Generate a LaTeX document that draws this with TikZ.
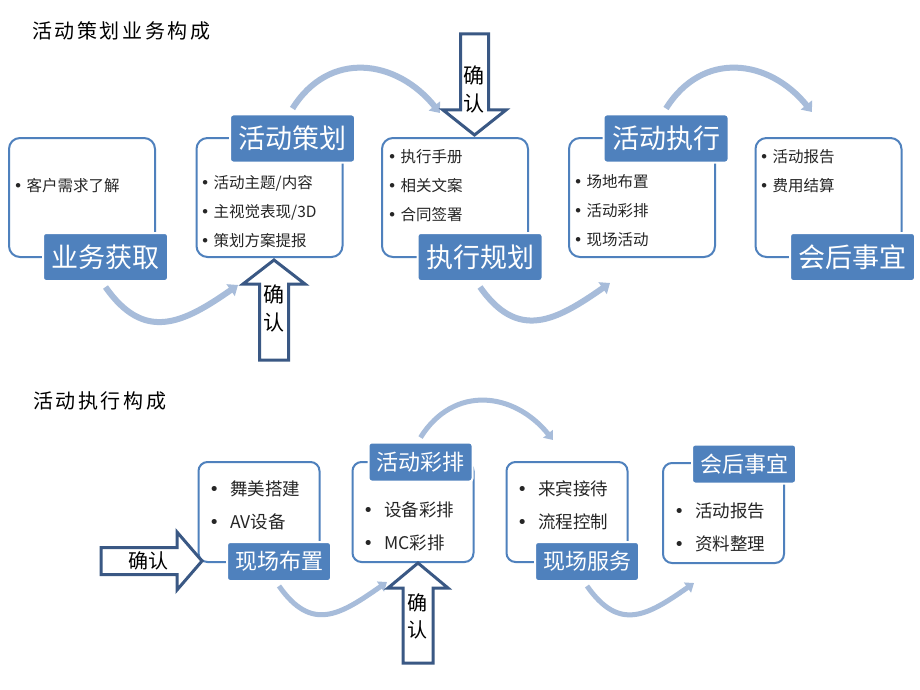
\documentclass[tikz,border=0pt]{standalone}
\usepackage{fontspec}
\setmainfont{Noto Sans CJK SC}
\newfontfamily\titlefont[LetterSpace=13]{Noto Sans CJK SC}
\newfontfamily\dotfont{DejaVu Sans}
\usetikzlibrary{arrows.meta}

\definecolor{accent}{RGB}{79,129,189}
\definecolor{flowline}{RGB}{167,188,218}
\definecolor{okline}{RGB}{58,88,132}
\definecolor{bodytext}{RGB}{38,38,38}

\newcommand{\dotitem}[1][13pt]{\makebox[#1][l]{\dotfont •}}

\begin{document}
\begin{tikzpicture}[x=1pt,y=1pt]
        \tikzstyle{panel} = [rectangle, rounded corners=11pt, draw=accent, line width=2pt, fill=white, minimum width=146pt, minimum height=119pt]
        \tikzstyle{spanel} = [panel, rounded corners=9pt, minimum width=121pt, minimum height=100pt]
        \tikzstyle{tag} = [rectangle, rounded corners=3pt, fill=accent, draw=white, line width=2pt, text=white, inner sep=0pt, minimum width=125pt, minimum height=48pt, font=\fontsize{27}{30}\selectfont]
        \tikzstyle{stag} = [tag, minimum width=104pt, minimum height=39pt, font=\fontsize{22}{25}\selectfont]
        \tikzstyle{items} = [align=left, anchor=west, inner sep=0pt, text=bodytext, font=\fontsize{15.5}{29}\selectfont]
        \tikzstyle{sitems} = [items, font=\fontsize{17.5}{33}\selectfont]
        \tikzstyle{flow} = [-{Triangle[length=9pt,width=14pt]}, draw=flowline, line width=6pt]
        \tikzstyle{sflow} = [-{Triangle[length=8pt,width=12pt]}, draw=flowline, line width=5pt]
        \tikzstyle{confirm} = [draw=okline, line width=3pt, fill=white]
        \tikzstyle{confirmtext} = [align=center, inner sep=0pt, font=\fontsize{21}{28}\selectfont]
        \tikzstyle{heading} = [anchor=west, inner sep=0pt, font=\titlefont\fontsize{20}{24}\selectfont]

        \fill[white] (0,0) rectangle (920,-690);
        \useasboundingbox (0,0) rectangle (920,-690);

        % top part
        \node[heading] (title1) at (32,-31) {活动策划业务构成};
        \node[panel] (box1) at (82,-197.5) {};
        \node[panel] (box2) at (269.5,-197.5) {};
        \node[panel] (box3) at (455,-197.5) {};
        \node[panel] (box4) at (642,-197.5) {};
        \node[panel] (box5) at (828.5,-197.5) {};
        \node[tag] (get) at (105.5,-257) {业务获取};
        \node[tag] (plan) at (292.5,-138.5) {活动策划};
        \node[tag] (prep) at (480,-257) {执行规划};
        \node[tag] (exec) at (666,-138.5) {活动执行};
        \node[tag] (after) at (852.5,-257) {会后事宜};
        \node[items] (getlist) at (13.5,-186) {\dotitem 客户需求了解};
        \node[items] (planlist) at (200.5,-211.5) {\dotitem 活动主题/内容\\ \dotitem 主视觉表现/3D\\ \dotitem 策划方案提报};
        \node[items] (preplist) at (387.5,-186) {\dotitem 执行手册\\ \dotitem 相关文案\\ \dotitem 合同签署};
        \node[items] (execlist) at (573.5,-211) {\dotitem 场地布置\\ \dotitem 活动彩排\\ \dotitem 现场活动};
        \node[items] (afterlist) at (759.5,-171.5) {\dotitem 活动报告\\ \dotitem 费用结算};
        \coordinate (t1) at (238,-285);
        \coordinate (t2) at (440,-113);
        \coordinate (t3) at (610,-283);
        \coordinate (t4) at (812,-112);
        \draw[flow] ([yshift=-5pt]get.south) to[out=-55,in=215,looseness=1.3] (t1);
        \draw[flow] ([yshift=5pt]plan.north) to[out=58,in=129,looseness=1.2] (t2);
        \draw[flow] ([yshift=-5pt]prep.south) to[out=-55,in=215,looseness=1.3] (t3);
        \draw[flow] ([yshift=5pt]exec.north) to[out=58,in=129,looseness=1.2] (t4);
        \draw[confirm] (259.5,-360) -- (259.5,-284) -- (243,-284) -- (274,-260) -- (305,-284) -- (288.5,-284) -- (288.5,-360) -- cycle;
        \node[confirmtext] (ok1) at (273.5,-308) {确\\认};
        \draw[confirm] (460.5,-34) -- (460.5,-110) -- (443,-110) -- (474.5,-135) -- (506,-110) -- (488.5,-110) -- (488.5,-34) -- cycle;
        \node[confirmtext] (ok2) at (473.5,-89) {确\\认};

        % bottom part
        \node[heading] (title2) at (33,-401) {活动执行构成};
        \node[spanel] (box6) at (259,-512) {};
        \node[spanel] (box7) at (413,-512) {};
        \node[spanel] (box8) at (567,-512) {};
        \node[spanel] (box9) at (723.5,-513) {};
        \node[stag] (setup) at (279,-561.5) {现场布置};
        \node[stag] (rehearse) at (420.5,-462) {活动彩排};
        \node[stag] (onsite) at (587,-561.5) {现场服务};
        \node[stag] (wrap) at (744,-464) {会后事宜};
        \node[sitems] (setuplist) at (209,-505) {\dotitem[17pt] 舞美搭建\\ \dotitem[17pt] AV设备};
        \node[sitems] (rehearselist) at (363,-526) {\dotitem[17pt] 设备彩排\\ \dotitem[17pt] MC彩排};
        \node[sitems] (onsitelist) at (517,-505) {\dotitem[17pt] 来宾接待\\ \dotitem[17pt] 流程控制};
        \node[sitems] (wraplist) at (674,-527.5) {\dotitem[17pt] 活动报告\\ \dotitem[17pt] 资料整理};
        \coordinate (t5) at (387,-582);
        \coordinate (t6) at (553,-440);
        \coordinate (t7) at (694,-583);
        \draw[sflow] ([yshift=-4pt]setup.south) to[out=-55,in=215,looseness=1.35] (t5);
        \draw[sflow] ([yshift=4pt]rehearse.north) to[out=58,in=129,looseness=1.2] (t6);
        \draw[sflow] ([yshift=-4pt]onsite.south) to[out=-55,in=215,looseness=1.35] (t7);
        \draw[confirm] (101,-547.5) -- (177,-547.5) -- (177,-532) -- (202,-561) -- (177,-590) -- (177,-574.5) -- (101,-574.5) -- cycle;
        \node[confirmtext, font=\fontsize{20}{26}\selectfont] (ok3) at (148,-561) {确认};
        \draw[confirm] (403,-663) -- (403,-588) -- (388,-588) -- (418,-563) -- (448,-588) -- (433,-588) -- (433,-663) -- cycle;
        \node[confirmtext, font=\fontsize{20}{27}\selectfont] (ok4) at (417.5,-616.5) {确\\认};
\end{tikzpicture}
\end{document}
